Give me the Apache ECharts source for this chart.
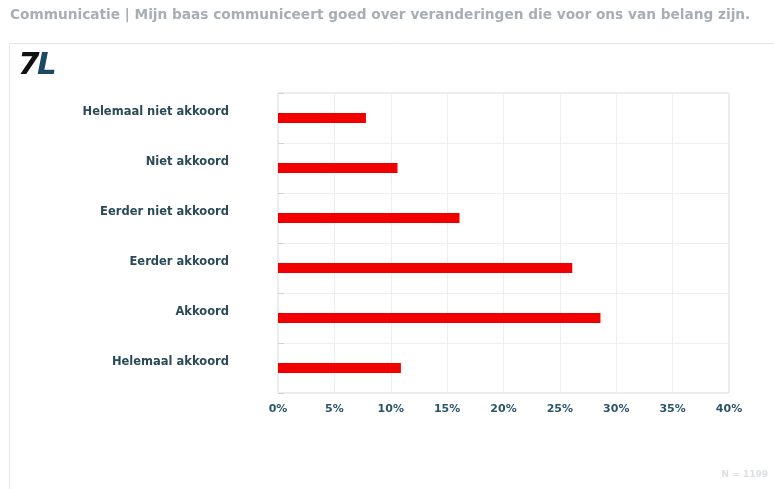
<!DOCTYPE html>
<html>
<head>
<meta charset="utf-8">
<script src="https://cdn.jsdelivr.net/npm/echarts@6/dist/echarts.min.js"></script>
<style>
  html, body { margin: 0; padding: 0; background: #ffffff; }
  #chart { width: 774px; height: 489px; }
</style>
</head>
<body>
<div id="chart"></div>
<script>
// Answer categories, top to bottom
const categories = [
  'Helemaal niet akkoord',
  'Niet akkoord',
  'Eerder niet akkoord',
  'Eerder akkoord',
  'Akkoord',
  'Helemaal akkoord'
];
// Share of respondents per answer (%)
const shares = [7.8, 10.6, 16.1, 26.1, 28.6, 10.9];
// Percentage axis ticks
const tickValues = [0, 5, 10, 15, 20, 25, 30, 35, 40];

const titleText = 'Communicatie | Mijn baas communiceert goed over veranderingen die voor ons van belang zijn.';
const sampleText = 'N = 1199';

const chart = echarts.init(document.getElementById('chart'));

chart.setOption({
  backgroundColor: '#ffffff',
  animation: false,
  graphic: [
    {
      type: 'text', left: 10, top: 8,
      style: {
        text: titleText,
        fill: '#a6aeb6',
        font: 'bold 13.7px "DejaVu Sans", sans-serif'
      }
    },
    {
      type: 'rect', shape: { x: 9.5, y: 43.5, width: 800, height: 500 },
      style: { fill: 'none', stroke: '#e4e6e8', lineWidth: 1 }
    },
    {
      type: 'text', left: 18, top: 50,
      style: {
        text: '7',
        fill: '#111111',
        font: 'italic bold 31px "DejaVu Sans", sans-serif'
      }
    },
    {
      type: 'text', left: 37, top: 50,
      style: {
        text: 'L',
        fill: '#1d4a62',
        font: 'italic bold 31px "DejaVu Sans", sans-serif'
      }
    },
    {
      type: 'text', right: 6, top: 470,
      style: {
        text: sampleText,
        fill: '#dcdfe2',
        font: 'bold 9px "DejaVu Sans", sans-serif'
      }
    }
  ],
  grid: {
    left: 278, right: 45, top: 93, bottom: 96,
    show: true, borderColor: '#d6d8da', borderWidth: 1
  },
  xAxis: {
    type: 'value',
    min: 0, max: 40, interval: 5,
    axisLine: { show: false },
    axisTick: { show: false },
    splitLine: { lineStyle: { color: '#eceef0', width: 1 } },
    axisLabel: {
      margin: 11,
      color: '#2d5566',
      fontFamily: '"DejaVu Sans", sans-serif',
      fontWeight: 'bold',
      fontSize: 11,
      customValues: tickValues,
      formatter: v => v + '%'
    }
  },
  yAxis: {
    type: 'category',
    inverse: true,
    data: categories,
    axisLine: { show: false },
    axisTick: { show: true, inside: true, length: 6, lineStyle: { color: '#cfd2d4' } },
    splitLine: { show: true, lineStyle: { color: '#eceef0', width: 1 } },
    axisLabel: {
      margin: 49,
      verticalAlign: 'bottom',
      color: '#2a4a58',
      fontFamily: '"DejaVu Sans", sans-serif',
      fontWeight: 'bold',
      fontSize: 11.5
    }
  },
  series: [{
    type: 'bar',
    data: shares,
    barWidth: 10,
    itemStyle: { color: '#f20000' }
  }]
});
</script>
</body>
</html>
